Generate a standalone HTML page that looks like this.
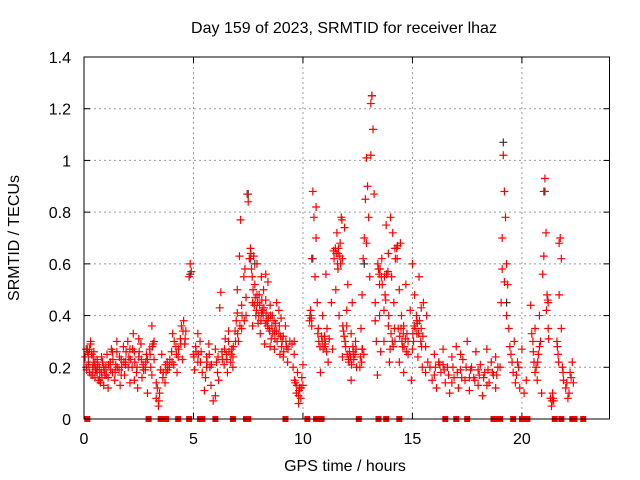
<!DOCTYPE html>
<html><head><meta charset="utf-8"><style>
html,body{margin:0;padding:0;background:#fff;}
svg{display:block;font-family:"Liberation Sans",sans-serif;}
</style></head><body>
<svg id="chart" width="640" height="480" viewBox="0 0 640 480" xmlns="http://www.w3.org/2000/svg">
<rect x="0" y="0" width="640" height="480" fill="#fff"/>
<text x="344" y="33" font-size="16" text-anchor="middle" fill="#000">Day 159 of 2023, SRMTID for receiver lhaz</text>
<text x="0" y="0" font-size="16" text-anchor="middle" transform="translate(19,238) rotate(-90)">SRMTID / TECUs</text>
<text x="345" y="471" font-size="16" text-anchor="middle">GPS time / hours</text>
<g id="grid"></g><g id="ticks"></g><g id="marks"></g>
<rect x="84" y="57" width="525.5" height="362" fill="none" stroke="#000" stroke-width="1"/>
</svg>
<script>
const xTicks=[0,5,10,15,20];
const yTicks=[0,0.2,0.4,0.6,0.8,1,1.2,1.4];
const yTickLabels=["0","0.2","0.4","0.6","0.8","1","1.2","1.4"];
const times=[0.05,0.1,0.15,0.2,0.25,0.3,0.35,0.4,0.45,0.5,0.55,0.6,0.65,0.7,0.75,0.8,0.85,0.9,0.95,0.1,0.2,0.3,0.4,0.5,0.6,0.7,0.8,0.9,
1.0,1.05,1.1,1.2,1.25,1.3,1.4,1.45,1.5,1.6,1.65,1.7,1.8,1.85,1.9,2.0,2.05,2.1,2.2,2.25,2.3,2.4,2.45,2.5,2.6,2.65,2.7,2.8,2.85,2.9,1.1,1.3,1.5,1.7,1.9,2.1,2.3,2.5,2.7,2.9,
3.0,3.05,3.1,3.15,3.2,3.3,3.35,3.4,3.45,3.5,3.55,3.6,3.7,3.75,3.8,3.9,4.0,4.05,4.1,4.2,4.25,4.3,4.4,4.45,4.5,4.55,4.6,4.65,3.1,3.2,3.3,
4.8,4.85,4.9,5.0,5.05,5.1,5.2,5.3,5.35,5.4,5.5,5.55,5.6,5.7,5.75,5.8,5.9,6.0,6.05,6.1,6.2,6.25,6.3,6.4,6.45,5.2,5.6,6.0,6.15,
6.5,6.55,6.6,6.7,6.75,6.8,6.9,6.95,7.0,7.05,7.1,7.15,7.2,7.3,7.35,7.4,7.45,7.5,7.55,6.6,6.8,7.0,7.2,7.4,
7.6,7.65,7.7,7.75,7.8,7.85,7.9,7.95,8.0,8.05,8.1,8.15,8.2,8.25,8.3,8.35,8.4,8.45,8.5,8.55,8.6,8.7,8.75,8.8,8.9,8.95,9.0,9.05,9.1,9.2,9.25,9.3,9.4,7.7,7.9,8.1,8.3,8.5,8.7,8.9,9.1,
9.5,9.55,9.6,9.65,9.7,9.75,9.8,9.85,9.9,9.95,10.0,9.6,9.8,10.0,
10.3,10.35,10.4,10.45,10.5,10.55,10.6,10.65,10.7,10.8,10.85,10.9,11.0,11.05,11.1,11.15,11.2,11.3,11.35,11.4,11.5,11.55,11.6,11.65,11.7,11.75,11.8,11.85,11.9,11.95,12.0,12.05,12.1,12.2,12.25,12.3,12.4,12.45,10.4,10.6,11.0,11.6,11.8,12.0,12.2,
12.6,12.65,12.7,12.75,12.8,12.85,12.9,12.95,13.0,13.05,13.1,13.15,13.2,13.25,13.3,13.35,13.4,13.45,13.5,13.55,13.6,13.7,13.75,13.8,13.9,13.95,12.7,12.9,13.1,13.3,13.5,13.7,13.9,
14.0,14.05,14.1,14.15,14.2,14.3,14.35,14.4,14.45,14.5,14.55,14.6,14.7,14.75,14.8,14.9,14.95,15.0,15.05,15.1,15.2,15.25,15.3,15.4,15.45,15.5,15.6,15.65,15.7,14.2,14.4,14.6,14.8,15.0,15.2,15.4,15.6,
15.8,15.9,16.0,16.1,16.2,16.3,16.4,16.5,16.6,16.7,16.8,16.9,17.0,17.1,17.2,17.3,17.4,17.5,17.6,17.7,17.8,17.9,18.0,18.1,18.2,18.3,18.4,18.5,18.6,18.7,18.8,18.9,16.0,16.4,16.8,17.2,17.6,18.0,18.4,18.8,
19.0,19.05,19.1,19.15,19.2,19.25,19.3,19.35,19.4,19.5,19.6,19.65,19.7,19.8,19.9,20.0,20.1,20.2,19.1,19.2,19.3,
20.4,20.5,20.55,20.6,20.7,20.75,20.8,20.9,20.95,21.0,21.05,21.1,21.15,21.2,21.3,21.35,21.4,21.45,20.6,20.8,21.0,21.2,
21.6,21.65,21.7,21.75,21.8,21.85,21.9,22.0,22.1,22.2,22.3,22.35,21.7,21.8];
const values=[0.24,0.20,0.27,0.22,0.18,0.29,0.25,0.17,0.21,0.16,0.19,0.23,0.15,0.20,0.14,0.18,0.22,0.13,0.17,0.27,0.25,0.30,0.20,0.22,0.18,0.15,0.24,0.20,
0.20,0.25,0.16,0.22,0.27,0.18,0.15,0.21,0.26,0.19,0.13,0.23,0.28,0.17,0.21,0.30,0.24,0.14,0.20,0.33,0.26,0.18,0.12,0.24,0.29,0.16,0.21,0.19,0.25,0.10,0.12,0.26,0.30,0.17,0.22,0.27,0.15,0.31,0.20,0.23,
0.27,0.20,0.36,0.29,0.23,0.08,0.12,0.05,0.10,0.19,0.25,0.16,0.14,0.18,0.22,0.20,0.26,0.33,0.21,0.28,0.18,0.24,0.31,0.36,0.23,0.38,0.29,0.34,0.17,0.30,0.14,
0.55,0.60,0.57,0.25,0.19,0.28,0.22,0.30,0.26,0.18,0.11,0.16,0.24,0.29,0.20,0.13,0.07,0.09,0.22,0.18,0.43,0.49,0.26,0.21,0.31,0.33,0.20,0.27,0.15,
0.25,0.18,0.30,0.22,0.27,0.20,0.34,0.38,0.41,0.30,0.63,0.77,0.44,0.55,0.58,0.47,0.87,0.84,0.62,0.34,0.24,0.50,0.35,0.40,
0.66,0.58,0.45,0.63,0.52,0.40,0.60,0.37,0.48,0.33,0.55,0.42,0.50,0.29,0.46,0.38,0.53,0.35,0.44,0.31,0.40,0.27,0.37,0.45,0.33,0.25,0.39,0.30,0.24,0.36,0.28,0.22,0.30,0.36,0.48,0.41,0.56,0.28,0.34,0.42,0.32,
0.29,0.20,0.25,0.14,0.10,0.18,0.06,0.12,0.08,0.16,0.21,0.30,0.09,0.13,
0.38,0.42,0.62,0.88,0.78,0.55,0.70,0.45,0.35,0.18,0.32,0.40,0.28,0.56,0.35,0.22,0.31,0.45,0.27,0.65,0.50,0.72,0.58,0.40,0.68,0.78,0.62,0.34,0.74,0.28,0.36,0.52,0.22,0.15,0.45,0.26,0.30,0.20,0.36,0.82,0.30,0.64,0.24,0.42,0.33,
0.20,0.35,0.48,0.62,0.70,0.85,1.01,0.90,0.78,0.55,1.22,1.25,1.12,0.87,0.45,0.30,0.17,0.58,0.40,0.26,0.62,0.30,0.48,0.75,0.36,0.22,0.27,0.68,1.02,0.38,0.52,0.42,0.64,
0.78,0.55,0.72,0.45,0.30,0.62,0.35,0.22,0.68,0.40,0.28,0.18,0.52,0.33,0.25,0.42,0.15,0.60,0.30,0.48,0.38,0.24,0.55,0.35,0.20,0.45,0.28,0.40,0.22,0.66,0.50,0.36,0.30,0.27,0.33,0.43,0.18,
0.20,0.15,0.25,0.12,0.22,0.18,0.27,0.14,0.20,0.10,0.24,0.16,0.28,0.12,0.19,0.23,0.15,0.30,0.11,0.20,0.16,0.26,0.13,0.21,0.09,0.18,0.27,0.14,0.22,0.17,0.12,0.20,0.17,0.21,0.14,0.25,0.16,0.19,0.13,0.24,
0.20,0.45,0.70,1.02,0.88,0.78,0.60,0.52,0.35,0.25,0.18,0.30,0.14,0.22,0.12,0.27,0.10,0.15,0.58,0.53,0.40,
0.44,0.30,0.22,0.35,0.15,0.25,0.40,0.10,0.56,0.88,0.93,0.72,0.48,0.35,0.08,0.05,0.10,0.07,0.18,0.28,0.63,0.45,
0.30,0.25,0.48,0.70,0.62,0.20,0.15,0.12,0.08,0.18,0.22,0.14,0.68,0.35];
const extraTimes=[0.12,0.22,0.32,0.42,0.52,0.62,0.72,0.82,0.92,1.02,1.12,1.22,1.32,1.42,1.52,1.62,1.72,1.82,1.92,2.02,2.12,2.22,2.32,2.42,2.52,2.62,2.72,2.82,0.15,0.25,0.35,0.45,
3.02,3.12,3.42,3.62,3.72,3.82,3.92,4.02,4.12,4.22,4.32,4.42,4.52,4.62,
5.02,5.12,5.22,5.32,5.62,5.72,5.82,6.12,6.32,6.42,
6.52,6.62,6.72,6.82,6.92,7.02,7.12,7.22,7.32,
7.6,7.62,7.68,7.72,7.78,7.82,7.88,7.92,7.98,8.02,8.08,8.12,8.18,8.22,8.28,8.32,8.38,8.42,8.48,8.52,8.58,8.62,8.68,8.72,8.78,8.82,8.92,8.98,9.02,9.12,9.22,9.32,
9.62,9.72,9.82,9.92,
10.32,10.38,10.68,10.72,10.78,10.88,10.92,10.98,11.02,11.08,11.42,11.48,11.52,11.58,11.62,11.68,11.72,11.78,11.82,11.88,11.92,12.02,12.08,12.12,12.18,12.22,12.28,12.32,12.38,12.42,
12.62,12.68,12.72,12.78,13.42,13.48,13.52,13.58,13.62,13.72,13.78,13.82,13.88,13.92,13.98,
14.02,14.08,14.12,14.18,14.22,14.28,14.32,14.42,14.48,14.52,14.58,14.62,14.68,14.72,15.02,15.08,15.12,15.18,15.22,15.28,15.32,15.38,15.42,15.48,
16.05,16.25,16.45,16.65,16.85,17.05,17.25,17.45,17.65,17.85,18.05,18.25,18.45,18.65,18.85,
19.45,19.55,19.75,19.85,20.45,20.52,20.65,20.72,20.85,21.12,21.18,21.22,21.38,21.42,21.62,21.68,21.88,22.05,22.15,22.25];
const extraValues=[0.19,0.21,0.17,0.24,0.19,0.21,0.18,0.16,0.19,0.17,0.21,0.19,0.23,0.18,0.20,0.24,0.20,0.22,0.26,0.20,0.23,0.27,0.22,0.20,0.26,0.23,0.19,0.22,0.26,0.27,0.25,0.26,
0.25,0.28,0.07,0.18,0.21,0.19,0.23,0.22,0.30,0.25,0.27,0.29,0.34,0.31,
0.24,0.26,0.25,0.22,0.22,0.25,0.21,0.24,0.23,0.27,
0.23,0.26,0.25,0.28,0.30,0.33,0.36,0.40,0.38,
0.62,0.64,0.55,0.50,0.44,0.47,0.42,0.45,0.40,0.44,0.38,0.46,0.40,0.43,0.37,0.41,0.36,0.39,0.34,0.40,0.36,0.33,0.38,0.31,0.34,0.30,0.36,0.32,0.28,0.26,0.30,0.27,
0.15,0.13,0.11,0.12,
0.40,0.39,0.33,0.30,0.28,0.30,0.27,0.32,0.29,0.26,0.62,0.66,0.64,0.60,0.66,0.63,0.60,0.77,0.36,0.32,0.30,0.25,0.23,0.26,0.24,0.21,0.28,0.23,0.25,0.27,
0.24,0.22,0.27,0.25,0.60,0.56,0.58,0.55,0.52,0.55,0.46,0.56,0.57,0.40,0.27,
0.33,0.30,0.28,0.35,0.62,0.66,0.67,0.32,0.35,0.30,0.33,0.28,0.31,0.26,0.33,0.36,0.35,0.40,0.37,0.33,0.38,0.30,0.28,0.32,
0.20,0.21,0.19,0.17,0.20,0.18,0.16,0.20,0.19,0.15,0.17,0.16,0.19,0.18,0.17,
0.28,0.22,0.17,0.20,0.33,0.26,0.20,0.22,0.30,0.42,0.46,0.31,0.07,0.08,0.28,0.22,0.18,0.14,0.10,0.16];
const zeroTimes=[0.15,2.95,3.5,3.6,3.75,4.3,4.8,5.3,5.4,6.0,6.8,7.4,7.5,9.2,10.2,10.6,10.85,12.55,13.45,13.8,14.4,16.5,17.0,17.5,18.7,18.8,18.9,19.0,19.6,20.0,20.1,20.25,21.5,21.8,22.3,22.4,22.8];
const blackTimes=[13.15,19.15,7.5,21.05,12.8,7.8,10.45,19.3,4.85];
const blackValues=[1.25,1.07,0.87,0.88,0.60,0.60,0.62,0.45,0.56];
const X0=84,X1=609.5,Y0=419,Y1=57,XMAX=24,YMAX=1.4;
function xs(t){return X0+(X1-X0)*t/XMAX;}
function ys(v){return Y0-(Y0-Y1)*v/YMAX;}
const NS="http://www.w3.org/2000/svg";
const grid=document.getElementById('grid'),ticks=document.getElementById('ticks'),marks=document.getElementById('marks');
function mk(tag,attrs,parent){const e=document.createElementNS(NS,tag);for(const k in attrs)e.setAttribute(k,attrs[k]);parent.appendChild(e);return e;}
yTicks.forEach((v,i)=>{
  const y=ys(v);
  if(v>0&&v<YMAX){const g=mk('line',{x1:X0,x2:X1,y1:y,y2:y,stroke:'#999','stroke-dasharray':'2,3'},grid);
  
  }
  mk('line',{x1:X0,x2:X0+6,y1:y,y2:y,stroke:'#000'},ticks);
  mk('line',{x1:X1,x2:X1-6,y1:y,y2:y,stroke:'#000'},ticks);
  const t=mk('text',{x:71,y:y+6,'font-size':16,'text-anchor':'end'},ticks);
  t.textContent=yTickLabels[i];
  
  
});
xTicks.forEach(v=>{
  const x=xs(v);
  if(v>0){const g=mk('line',{x1:x,x2:x,y1:Y0,y2:Y1,stroke:'#999','stroke-dasharray':'2,3'},grid);
  
  }
  mk('line',{x1:x,x2:x,y1:Y0,y2:Y0-6,stroke:'#000'},ticks);
  mk('line',{x1:x,x2:x,y1:Y1,y2:Y1+6,stroke:'#000'},ticks);
  const t=mk('text',{x:x,y:444,'font-size':16,'text-anchor':'middle'},ticks);
  t.textContent=String(v);
  
  
});
function plus(t,v,color,name){
  const x=xs(t),y=ys(v);
  const p=mk('path',{d:`M${x-4},${y}H${x+4}M${x},${y-4}V${y+4}`,stroke:color,'stroke-width':1.2,fill:'none'},marks);
  
  
}
blackTimes.forEach((t,i)=>plus(t,blackValues[i],'#333','black-point'));
times.forEach((t,i)=>plus(t,values[i],'#f00','srmtid-point'));
extraTimes.forEach((t,i)=>plus(t,extraValues[i],'#f00','srmtid-point'));
zeroTimes.forEach(t=>{
  const r=mk('rect',{x:xs(t)-3,y:Y0-3,width:6,height:6,fill:'#f00'},marks);
  
  
});
</script>
</body></html>
